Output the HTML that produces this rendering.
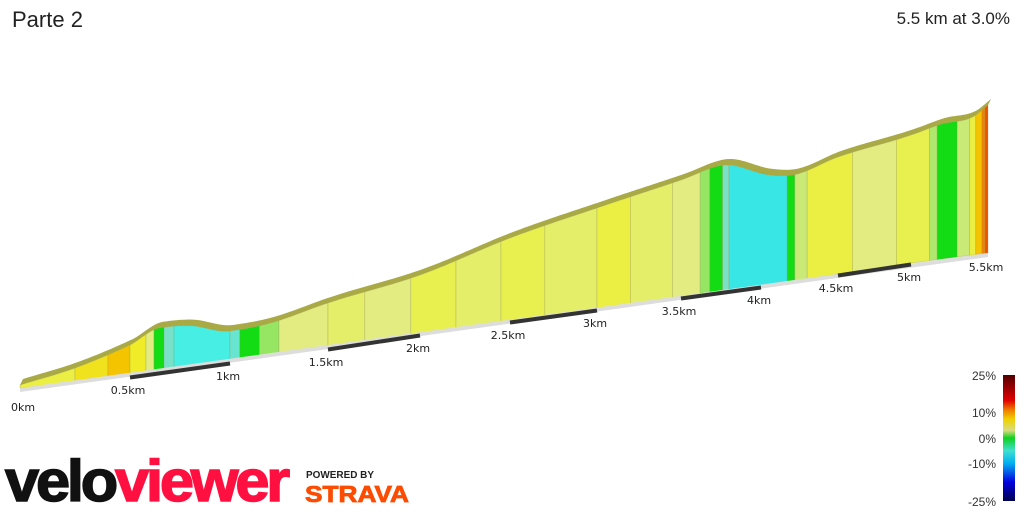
<!DOCTYPE html>
<html><head><meta charset="utf-8">
<style>
html,body{margin:0;padding:0;background:#fff;}
body{width:1024px;height:512px;overflow:hidden;position:relative;font-family:"Liberation Sans",sans-serif;}
#title{position:absolute;left:12px;top:7px;font-size:22px;color:#222;}
#summary{position:absolute;right:14px;top:9px;font-size:17px;color:#222;}
svg{position:absolute;left:0;top:0;}
</style></head><body>
<div id="title">Parte 2</div>
<div id="summary">5.5 km at 3.0%</div>
<svg id="chart" width="1024" height="512">
  <defs>
    <linearGradient id="lg" x1="0" y1="1" x2="0" y2="0">
      <stop offset="0" stop-color="#000050"/>
      <stop offset="0.15" stop-color="#0000e0"/>
      <stop offset="0.3" stop-color="#00b0f0"/>
      <stop offset="0.4" stop-color="#40e0d0"/>
      <stop offset="0.5" stop-color="#10d020"/>
      <stop offset="0.56" stop-color="#d8dc80"/>
      <stop offset="0.65" stop-color="#f0d000"/>
      <stop offset="0.72" stop-color="#f08000"/>
      <stop offset="0.8" stop-color="#e00000"/>
      <stop offset="1" stop-color="#500000"/>
    </linearGradient>
  </defs>
  <g id="profile"></g>
  <g id="axis"></g>
  <g>
    <rect x="1003" y="375" width="12" height="126" fill="url(#lg)"/>
    <g font-size="12" fill="#333" text-anchor="end" font-family="Liberation Sans, sans-serif">
      <text x="996" y="380">25%</text>
      <text x="996" y="417">10%</text>
      <text x="996" y="443">0%</text>
      <text x="996" y="468">-10%</text>
      <text x="996" y="506">-25%</text>
    </g>
  </g>
  <g font-family="Liberation Sans, sans-serif" font-weight="bold">
    <text x="5" y="501" font-size="58" textLength="282" lengthAdjust="spacingAndGlyphs" letter-spacing="-3" stroke-width="1.5"><tspan fill="#111" stroke="#111">velo</tspan><tspan fill="#ff1040" stroke="#ff1040">viewer</tspan></text>
  </g>
  <g font-family="Liberation Sans, sans-serif" font-weight="bold">
    <text x="306" y="478" font-size="10.5" fill="#222" textLength="68" lengthAdjust="spacingAndGlyphs">POWERED BY</text>
    <text x="305" y="502" font-size="23" fill="#fc4c02" stroke="#fc4c02" stroke-width="0.8" textLength="104" lengthAdjust="spacingAndGlyphs">STRAVA</text>
  </g>
</svg>
<script>
// axis calibration (perspective): km -> screen baseline
const tickKm = [0,0.5,1,1.5,2,2.5,3,3.5,4,4.5,5,5.5];
const tickLabels = ["0km","0.5km","1km","1.5km","2km","2.5km","3km","3.5km","4km","4.5km","5km","5.5km"];
const baseX = [20,130,230,328,420,510,597,681,761,838,911,988];
const baseY = [388,376,362,348,334,321,309,297,286,274,263,253];
// elevation profile (relative metres)
const distKm = [0,0.25,0.5,0.65,0.8,1,1.2,1.5,2,2.5,3,3.5,3.76,4.05,4.2,4.5,5,5.2,5.4,5.5];
const elev   = [3,14,31,44,42,31,33,45,59,83,101,117,126,110,106,117,128,135,138,148];
// gradient segments
const segStart = [0,0.25,0.4,0.5,0.58,0.62,0.67,0.72,1.0,1.05,1.15,1.25,1.5,1.7,1.95,2.2,2.45,2.7,3.0,3.2,3.45,3.62,3.68,3.76,3.8,4.17,4.22,4.3,4.6,4.9,5.12,5.17,5.3,5.38,5.42,5.46,5.48];
const segGrade = [4,5.5,7,5,2.5,0,-2,-5,-3,0,1,2.5,3,2.5,3.5,3,3.5,3,4,3,2.5,1,0,-2,-6,0,2,4,2.5,3.5,1.5,0,2,4,7,10,12];

function interp(xs, ys, v){
  if(v<=xs[0]) return ys[0];
  for(let i=1;i<xs.length;i++){ if(v<=xs[i]){const t=(v-xs[i-1])/(xs[i]-xs[i-1]);return ys[i-1]+t*(ys[i]-ys[i-1]);} }
  return ys[ys.length-1];
}
function sx(d){return interp(tickKm,baseX,d);}
function sy(d){return interp(tickKm,baseY,d);}
function slope(i){
  const n=distKm.length;
  if(i==0) return (elev[1]-elev[0])/(distKm[1]-distKm[0]);
  if(i==n-1) return (elev[n-1]-elev[n-2])/(distKm[n-1]-distKm[n-2]);
  const s1=(elev[i]-elev[i-1])/(distKm[i]-distKm[i-1]), s2=(elev[i+1]-elev[i])/(distKm[i+1]-distKm[i]);
  if(s1*s2<=0) return 0;
  return (s1+s2)/2;
}
function elevAt(d){
  if(d<=distKm[0]) return elev[0];
  for(let i=1;i<distKm.length;i++){
    if(d<=distKm[i]){
      const h=distKm[i]-distKm[i-1], t=(d-distKm[i-1])/h;
      const h00=2*t*t*t-3*t*t+1,h10=t*t*t-2*t*t+t,h01=-2*t*t*t+3*t*t,h11=t*t*t-t*t;
      return h00*elev[i-1]+h10*h*slope(i-1)+h01*elev[i]+h11*h*slope(i);
    }
  }
  return elev[elev.length-1];
}
function topY(d){return sy(d)-elevAt(d);}
const cmap=[[-25,[0,0,80]],[-15,[0,0,224]],[-10,[0,200,240]],[-5,[70,238,228]],[-2,[120,225,200]],[0,[20,220,20]],[1,[150,230,100]],[2.5,[226,236,128]],[3.5,[232,240,80]],[5,[240,236,40]],[7,[245,196,0]],[10,[240,130,0]],[15,[224,20,0]],[25,[80,0,0]]];
function color(g){
  for(let i=1;i<cmap.length;i++){ if(g<=cmap[i][0]){const a=cmap[i-1],b=cmap[i];const t=Math.max(0,(g-a[0])/(b[0]-a[0]));const c=a[1].map((v,k)=>Math.round(v+t*(b[1][k]-v)));return 'rgb('+c.join(',')+')';} }
  return 'rgb(80,0,0)';
}
const NS='http://www.w3.org/2000/svg';
const prof=document.getElementById('profile');
const axisG=document.getElementById('axis');
const strip=document.createElementNS(NS,'polygon');


strip.setAttribute('points',`${sx(0)},${sy(0)} ${sx(5.5)},${sy(5.5)} ${sx(5.5)},${sy(5.5)+4} ${sx(0)},${sy(0)+4}`);
strip.setAttribute('fill','#ddd');
axisG.appendChild(strip);
for(let i=1;i<tickKm.length-1;i+=2){
  const l=document.createElementNS(NS,'line');
  
  
  l.setAttribute('x1',sx(tickKm[i]));l.setAttribute('y1',sy(tickKm[i])+1.5);
  l.setAttribute('x2',sx(tickKm[i+1]));l.setAttribute('y2',sy(tickKm[i+1])+1.5);
  l.setAttribute('stroke','#333');l.setAttribute('stroke-width','4');
  axisG.appendChild(l);
}
tickKm.forEach((k,i)=>{
  const t=document.createElementNS(NS,'text');
  
  
  t.setAttribute('x',sx(k)+(i==0?3:-2));t.setAttribute('y',sy(k)+(i==0?23:18));
  t.setAttribute('font-size','11');t.setAttribute('fill','#222');t.setAttribute('text-anchor','middle');
  t.setAttribute('font-family','DejaVu Sans, sans-serif');
  t.textContent=tickLabels[i];
  axisG.appendChild(t);
});
for(let i=0;i<segStart.length;i++){
  const a=segStart[i], b=(i+1<segStart.length?segStart[i+1]:5.5);
  const n=8; const pts=[];
  for(let j=0;j<=n;j++){const d=a+(b-a)*j/n;pts.push(sx(d)+','+topY(d));}
  pts.push(sx(b)+','+sy(b)); pts.push(sx(a)+','+sy(a));
  const p=document.createElementNS(NS,'polygon');
  
  
  p.setAttribute('points',pts.join(' '));
  p.setAttribute('fill',color(segGrade[i]));
  p.setAttribute('stroke','rgba(150,150,80,0.35)');p.setAttribute('stroke-width','0.8');
  prof.appendChild(p);
}
const frontEdge=[],backEdge=[];
for(let j=0;j<=330;j++){const d=5.5*j/330;frontEdge.push(sx(d)+','+topY(d));backEdge.unshift((sx(d)+3)+','+(topY(d)-6));}
const ts=document.createElementNS(NS,'polygon');


ts.setAttribute('points',frontEdge.concat(backEdge).join(' '));
ts.setAttribute('fill','rgb(160,160,50)');ts.setAttribute('opacity','0.9');
prof.appendChild(ts);
</script>
</body></html>
